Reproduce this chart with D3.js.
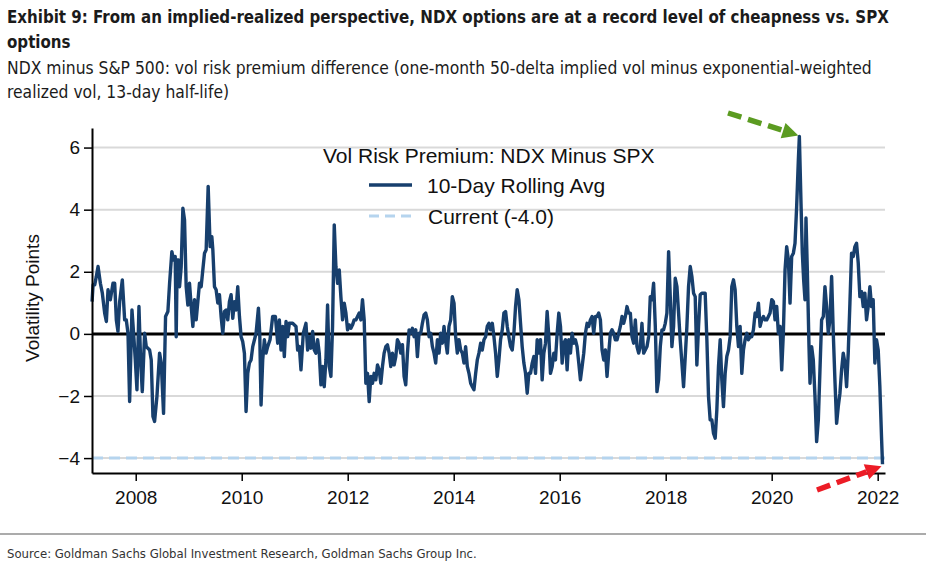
<!DOCTYPE html>
<html>
<head>
<meta charset="utf-8">
<script src="https://cdn.jsdelivr.net/npm/d3@7"></script>
<style>
  body { margin: 0; background: #fff; }
  svg { display: block; }
</style>
</head>
<body>
<div id="chart"></div>
<script>
// chart data
var xTicks = [2008, 2010, 2012, 2014, 2016, 2018, 2020, 2022];
var yTicks = [-4, -2, 0, 2, 4, 6];
var currentValue = -4.0;
var legendTitle = "Vol Risk Premium: NDX Minus SPX";
var legendLabels = ["10-Day Rolling Avg", "Current (-4.0)"];

// [decimal year, vol points] for the 10-day rolling average
var rollingAvg = [
  [2007.176,1.04],[2007.195,1.58],[2007.226,1.58],[2007.257,1.85],[2007.289,2.17],[2007.333,1.63],[2007.370,1.31],[2007.414,0.67],
  [2007.446,0.40],[2007.477,1.42],[2007.521,1.10],[2007.571,1.63],[2007.603,1.63],[2007.634,0.45],[2007.665,0.08],[2007.697,1.04],
  [2007.747,1.74],[2007.791,0.45],[2007.822,0.45],[2007.854,0.02],[2007.885,-2.18],[2007.929,0.77],[2007.960,0.02],[2007.992,-0.84],
  [2008.023,-1.80],[2008.061,0.88],[2008.092,-0.84],[2008.124,-1.86],[2008.168,0.02],[2008.199,-0.41],[2008.262,-0.52],[2008.293,-0.84],
  [2008.325,-2.66],[2008.356,-2.82],[2008.400,-2.02],[2008.450,-0.62],[2008.482,-0.94],[2008.525,-2.56],[2008.563,0.56],[2008.607,0.72],
  [2008.639,1.63],[2008.682,2.65],[2008.714,2.38],[2008.745,2.49],[2008.764,-0.09],[2008.783,2.38],[2008.808,2.38],[2008.827,1.52],
  [2008.858,2.17],[2008.890,4.05],[2008.921,3.67],[2008.952,1.52],[2008.984,0.93],[2009.015,1.63],[2009.047,0.88],[2009.078,0.24],
  [2009.109,1.10],[2009.141,0.45],[2009.172,1.04],[2009.203,1.63],[2009.235,1.52],[2009.266,2.06],[2009.298,2.60],[2009.329,2.71],
  [2009.367,4.75],[2009.404,2.81],[2009.436,3.13],[2009.455,2.71],[2009.486,1.52],[2009.517,1.42],[2009.549,0.99],[2009.580,1.26],
  [2009.611,0.56],[2009.643,0.02],[2009.674,0.72],[2009.706,0.77],[2009.737,0.45],[2009.768,1.04],[2009.800,1.26],[2009.831,0.50],
  [2009.863,1.04],[2009.894,0.77],[2009.925,1.52],[2009.957,0.56],[2009.988,-0.09],[2010.019,-0.25],[2010.051,-0.62],[2010.082,-2.50],
  [2010.114,-1.27],[2010.145,-0.94],[2010.176,-0.84],[2010.208,-0.41],[2010.271,0.02],[2010.315,0.83],[2010.340,0.02],[2010.365,-2.29],
  [2010.396,-0.84],[2010.427,-0.19],[2010.459,-0.62],[2010.490,-0.41],[2010.534,-0.19],[2010.584,0.56],[2010.635,0.56],[2010.679,-0.30],
  [2010.710,0.45],[2010.741,-0.52],[2010.773,0.24],[2010.804,-0.73],[2010.836,0.40],[2010.867,-0.09],[2010.898,0.34],[2010.961,0.34],
  [2011.024,0.24],[2011.055,-0.52],[2011.087,-0.41],[2011.118,-1.16],[2011.162,0.02],[2011.212,0.34],
  [2011.244,-0.52],[2011.275,-0.09],[2011.306,-0.46],[2011.338,0.08],[2011.369,-0.52],[2011.400,-0.62],[2011.432,-0.19],[2011.463,-0.62],
  [2011.495,-1.64],[2011.526,-1.05],[2011.557,-1.70],[2011.589,-0.84],[2011.620,0.93],[2011.652,-1.05],[2011.683,-1.37],[2011.714,0.24],
  [2011.746,3.51],[2011.777,2.17],[2011.809,1.63],[2011.840,2.06],[2011.871,1.20],[2011.903,0.45],[2011.934,0.99],[2011.966,0.67],
  [2011.997,0.13],[2012.028,0.29],[2012.060,0.18],[2012.091,0.29],[2012.122,0.45],[2012.154,0.45],[2012.185,0.56],[2012.217,0.67],
  [2012.248,0.45],[2012.279,1.10],[2012.311,0.45],[2012.342,-1.59],[2012.374,-1.27],[2012.405,-2.18],[2012.436,-1.37],[2012.468,-1.59],
  [2012.499,-1.27],[2012.530,-1.48],[2012.562,-1.00],[2012.593,-1.16],[2012.625,-1.59],[2012.656,-1.05],[2012.687,-0.62],[2012.719,-0.41],
  [2012.750,-0.35],[2012.782,-0.62],[2012.813,-1.05],[2012.844,-0.62],[2012.876,-1.00],[2012.907,-0.73],[2012.938,-0.19],[2012.970,-0.30],
  [2013.001,-0.62],[2013.033,-0.35],[2013.064,-1.37],[2013.095,-1.64],[2013.127,-0.62],[2013.158,0.13],[2013.189,0.02],[2013.221,0.18],
  [2013.252,-0.09],[2013.284,0.13],[2013.315,-0.73],[2013.346,0.02],[2013.378,0.02],[2013.409,0.34],[2013.441,0.61],[2013.472,0.67],
  [2013.503,0.45],[2013.535,-0.09],[2013.566,0.02],[2013.598,-0.41],[2013.629,-0.62],[2013.660,-0.94],[2013.692,-0.19],[2013.723,-0.62],
  [2013.754,0.02],[2013.786,-0.30],[2013.817,0.24],[2013.849,-0.25],[2013.880,-0.62],[2013.911,0.24],[2013.943,0.45],[2013.974,1.20],
  [2014.006,0.99],[2014.037,-0.09],[2014.068,-0.62],[2014.100,-0.19],[2014.131,-0.52],[2014.163,-0.62],[2014.194,-0.94],[2014.225,-0.41],
  [2014.257,-1.05],[2014.288,-1.27],[2014.320,-1.59],[2014.351,-1.70],[2014.382,-1.80],[2014.414,-1.27],[2014.445,-0.84],[2014.476,-0.62],
  [2014.508,-0.30],[2014.539,-0.52],[2014.571,-0.19],[2014.602,-0.09],[2014.633,0.24],[2014.665,0.34],[2014.696,0.13],[2014.728,0.34],
  [2014.759,-0.09],[2014.790,-0.62],[2014.822,-1.37],[2014.853,-0.84],[2014.884,-0.19],[2014.916,0.13],[2014.947,0.67],[2014.979,0.72],
  [2015.010,0.24],[2015.041,-0.09],[2015.073,-0.41],[2015.104,-0.52],[2015.136,0.02],[2015.167,0.88],[2015.198,1.42],[2015.230,1.10],
  [2015.261,0.34],[2015.292,-0.41],[2015.324,-0.94],[2015.355,-1.27],[2015.387,-1.91],
  [2015.418,-1.27],[2015.450,-1.27],[2015.481,-0.94],[2015.512,-0.73],[2015.544,-1.27],[2015.575,-0.19],[2015.606,-0.62],[2015.638,-0.19],
  [2015.669,-1.48],[2015.701,-0.62],[2015.732,-0.30],[2015.763,0.72],[2015.795,-0.09],[2015.826,-1.27],[2015.858,-1.05],[2015.889,-0.62],
  [2015.920,-0.84],[2015.952,0.02],[2015.983,0.67],[2016.015,0.24],[2016.046,-0.94],[2016.077,-0.30],[2016.109,-0.19],[2016.140,-1.16],
  [2016.171,-0.19],[2016.203,-0.62],[2016.234,0.02],[2016.266,-0.30],[2016.297,-0.19],[2016.328,-0.41],[2016.360,-0.94],[2016.391,-1.48],
  [2016.423,-1.05],[2016.454,-0.62],[2016.485,0.02],[2016.517,0.34],[2016.548,0.24],[2016.579,0.45],[2016.611,0.56],[2016.642,0.02],
  [2016.674,0.56],[2016.705,0.56],[2016.736,0.67],[2016.768,0.45],[2016.799,-0.52],[2016.831,-0.84],[2016.862,-0.52],[2016.893,-1.37],
  [2016.925,-0.62],[2016.956,0.02],[2016.987,0.13],[2017.019,0.02],[2017.050,-0.19],[2017.082,-0.19],[2017.113,0.02],[2017.144,0.24],
  [2017.176,0.56],[2017.207,0.34],[2017.239,0.56],[2017.270,0.88],[2017.301,0.67],[2017.333,0.67],[2017.364,-0.09],[2017.395,-0.30],
  [2017.427,0.45],[2017.458,-0.41],[2017.490,-0.62],[2017.521,-0.41],[2017.552,0.34],[2017.584,-0.62],[2017.615,-0.52],[2017.647,-0.41],
  [2017.678,-0.09],[2017.709,1.20],[2017.741,1.10],[2017.772,1.63],[2017.804,0.24],[2017.835,-1.86],[2017.866,-1.48],[2017.898,-0.41],
  [2017.929,0.13],[2017.960,0.13],[2017.992,0.34],[2018.023,0.67],[2018.055,2.65],[2018.086,1.20],[2018.117,-0.41],[2018.149,0.24],
  [2018.180,1.79],[2018.212,1.52],[2018.243,0.67],[2018.274,-0.19],[2018.306,-0.94],[2018.337,-1.70],[2018.369,-0.73],[2018.400,0.24],
  [2018.431,1.52],[2018.463,2.17],[2018.494,1.85],[2018.526,1.31],[2018.557,1.20],[2018.588,-1.00],[2018.620,0.24],[2018.651,1.26],
  [2018.682,1.31],[2018.714,1.31],
  [2018.745,1.31],[2018.777,-0.19],[2018.808,-2.02],[2018.839,-2.77],[2018.871,-2.77],[2018.902,-3.20],[2018.934,-3.36],[2018.965,-2.45],
  [2018.996,-1.05],[2019.028,-0.19],[2019.059,-1.48],[2019.090,-2.34],[2019.122,-1.27],[2019.153,-0.73],[2019.185,-0.52],[2019.216,-0.09],
  [2019.247,1.52],[2019.279,1.74],[2019.310,1.42],[2019.342,0.24],[2019.373,-0.41],[2019.404,0.24],[2019.436,-1.27],[2019.467,-0.52],
  [2019.498,-0.19],[2019.530,0.02],[2019.561,-0.19],[2019.593,-0.09],[2019.624,-0.09],[2019.655,0.13],[2019.687,0.67],[2019.718,0.56],
  [2019.750,0.99],[2019.781,0.24],[2019.812,0.45],[2019.844,0.56],[2019.875,0.45],[2019.906,0.45],[2019.938,0.56],[2019.969,0.67],
  [2020.001,1.10],[2020.032,1.04],[2020.063,0.45],[2020.095,0.88],[2020.126,0.02],[2020.158,0.24],[2020.189,-1.16],[2020.220,0.02],
  [2020.252,2.06],[2020.283,2.81],[2020.315,2.38],[2020.346,0.99],[2020.377,2.49],[2020.409,2.60],[2020.440,2.92],[2020.471,4.10],
  [2020.503,5.60],[2020.522,6.36],[2020.553,4.21],[2020.578,2.60],[2020.603,1.74],[2020.628,1.10],[2020.647,3.73],[2020.672,2.06],
  [2020.704,-0.41],[2020.723,-1.59],[2020.754,-0.41],[2020.785,-0.84],[2020.817,-2.02],[2020.848,-3.47],[2020.880,-2.77],[2020.911,-1.16],
  [2020.942,0.45],[2020.974,0.56],[2021.005,1.52],[2021.036,0.88],[2021.068,0.02],[2021.099,0.45],[2021.131,1.85],[2021.162,0.02],
  [2021.193,-1.48],[2021.225,-2.88],[2021.256,-2.34],[2021.288,-1.91],[2021.319,-1.16],[2021.350,-0.62],[2021.382,-0.94],[2021.413,-1.70],
  [2021.444,-0.62],[2021.476,0.99],[2021.507,2.60],[2021.539,2.49],[2021.570,2.81],[2021.601,2.92],[2021.633,2.28],[2021.664,1.20],
  [2021.696,1.36],[2021.727,0.88],[2021.758,1.31],[2021.790,0.45],[2021.821,0.88],[2021.853,1.52],[2021.884,0.88],[2021.915,1.10],
  [2021.947,-0.94],[2021.978,-0.19],[2022.010,-0.52],[2022.041,-1.70],[2022.072,-3.31],[2022.091,-4.20]
];

var W = 926, H = 572;
var margin = {top: 128, right: 41, bottom: 99, left: 92},
    width = W - margin.left - margin.right,
    height = H - margin.top - margin.bottom;

var lineColor = "#173f6d";
var currentColor = "#b5d4ee";
var narrow = "'Liberation Sans Narrow','DejaVu Sans Condensed','Arial Narrow',sans-serif";
var plain = "'Liberation Sans',Arial,sans-serif";

var root = d3.select("#chart").append("svg")
  .attr("width", W).attr("height", H);

// pick the font size that gives a text the width it has in the exhibit
function fitSize(sel, w, base) {
  sel.style("font-size", base + "px");
  var size = base * w / sel.node().getComputedTextLength();
  sel.style("font-size", size.toFixed(2) + "px");
  return size;
}

// title + subtitle
var head = root.append("g").attr("fill", "#1b1b1b").style("font-family", narrow);
var t1 = head.append("text").attr("x", 7).attr("y", 23).style("font-weight", "bold")
  .text("Exhibit 9: From an implied-realized perspective, NDX options are at a record level of cheapness vs. SPX");
var tSize = fitSize(t1, 882, 20);
head.append("text").attr("x", 7).attr("y", 48).style("font-weight", "bold")
  .style("font-size", tSize.toFixed(2) + "px").text("options");
var s1 = head.append("text").attr("x", 7).attr("y", 74)
  .text("NDX minus S&P 500: vol risk premium difference (one-month 50-delta implied vol minus exponential-weighted");
var sSize = fitSize(s1, 865, 19);
head.append("text").attr("x", 7).attr("y", 98)
  .style("font-size", sSize.toFixed(2) + "px").text("realized vol, 13-day half-life)");

var svg = root.append("g")
  .attr("transform", "translate(" + margin.left + "," + margin.top + ")");

var x = d3.scaleLinear()
  .domain([2007.175, 2022.138])
  .range([0, width]);

var y = d3.scaleLinear()
  .domain([-4.48, 6.63])
  .range([height, 0]);

// gridlines
svg.append("g")
  .selectAll("line")
  .data(yTicks.filter(function(d) { return d != 0; }))
  .join("line")
  .attr("x1", 0).attr("x2", width)
  .attr("y1", function(d) { return y(d); })
  .attr("y2", function(d) { return y(d); })
  .attr("stroke", "#d9d9d9")
  .attr("stroke-width", 2);

// current level
svg.append("line")
  .attr("x1", 0).attr("x2", width)
  .attr("y1", y(currentValue)).attr("y2", y(currentValue))
  .attr("stroke", currentColor)
  .attr("stroke-width", 3)
  .attr("stroke-dasharray", "11,6");

// zero line
svg.append("line")
  .attr("x1", 0).attr("x2", width)
  .attr("y1", y(0)).attr("y2", y(0))
  .attr("stroke", "#000")
  .attr("stroke-width", 3);

// the series
svg.append("path")
  .datum(rollingAvg)
  .attr("fill", "none")
  .attr("stroke", lineColor)
  .attr("stroke-width", 3.4)
  .attr("stroke-linejoin", "round")
  .attr("d", d3.line()
    .x(function(d) { return x(d[0]); })
    .y(function(d) { return y(d[1]); }));

// axes
var yAxis = svg.append("g")
  .call(d3.axisLeft(y).tickValues(yTicks).tickSize(8).tickSizeOuter(0).tickPadding(4));
var xAxis = svg.append("g")
  .attr("transform", "translate(0," + height + ")")
  .call(d3.axisBottom(x).tickValues(xTicks).tickFormat(d3.format("d"))
    .tickSize(8).tickSizeOuter(0).tickPadding(10));

[yAxis, xAxis].forEach(function(a) {
  a.select(".domain").attr("stroke", "#000").attr("stroke-width", 2);
  a.selectAll(".tick line").attr("stroke", "#000").attr("stroke-width", 1.5);
  a.selectAll(".tick text").attr("fill", "#111")
    .style("font-family", plain).style("font-size", "19px");
});

// y label
root.append("text")
  .attr("transform", "translate(39,298) rotate(-90)")
  .attr("text-anchor", "middle")
  .attr("fill", "#111")
  .style("font-family", plain).style("font-size", "19px")
  .text("Volatility Points");

// legend
var legend = root.append("g").attr("fill", "#111")
  .style("font-family", plain).style("font-size", "21px");
legend.append("text").attr("x", 323).attr("y", 163).text(legendTitle);
legend.append("line").attr("x1", 369).attr("x2", 412).attr("y1", 185).attr("y2", 185)
  .attr("stroke", lineColor).attr("stroke-width", 3.5);
legend.append("text").attr("x", 427).attr("y", 193).text(legendLabels[0]);
legend.append("line").attr("x1", 369).attr("x2", 412).attr("y1", 216).attr("y2", 216)
  .attr("stroke", currentColor).attr("stroke-width", 3).attr("stroke-dasharray", "10,6");
legend.append("text").attr("x", 428).attr("y", 224).text(legendLabels[1]);

// dashed arrows pointing at the record high and the current low
function arrow(x0, y0, x1, y1, color) {
  var a = Math.atan2(y1 - y0, x1 - x0), len = 16, half = 8;
  var bx = x1 - len * Math.cos(a), by = y1 - len * Math.sin(a);
  root.append("line")
    .attr("x1", x0).attr("y1", y0).attr("x2", bx).attr("y2", by)
    .attr("stroke", color).attr("stroke-width", 5.5)
    .attr("stroke-dasharray", "14,7");
  root.append("path")
    .attr("fill", color)
    .attr("d", "M" + x1 + "," + y1 +
      "L" + (bx + half * Math.sin(a)) + "," + (by - half * Math.cos(a)) +
      "L" + (bx - half * Math.sin(a)) + "," + (by + half * Math.cos(a)) + "Z");
}
var peak = d3.greatest(rollingAvg, function(d) { return d[1]; });
var last = rollingAvg[rollingAvg.length - 1];
arrow(728, 113, margin.left + x(peak[0]) - 1, margin.top + y(peak[1]) - 1, "#5b9b21");
arrow(817, 490, margin.left + x(last[0]) - 1, margin.top + y(last[1]) + 2, "#ec1c26");

// source footer
root.append("line")
  .attr("x1", 0).attr("x2", W).attr("y1", 534).attr("y2", 534)
  .attr("stroke", "#8f8f8f").attr("stroke-width", 1.5);
var src = root.append("text").attr("x", 7).attr("y", 558)
  .attr("fill", "#333")
  .style("font-family", narrow)
  .text("Source: Goldman Sachs Global Investment Research, Goldman Sachs Group Inc.");
fitSize(src, 470, 14);
</script>
</body>
</html>
